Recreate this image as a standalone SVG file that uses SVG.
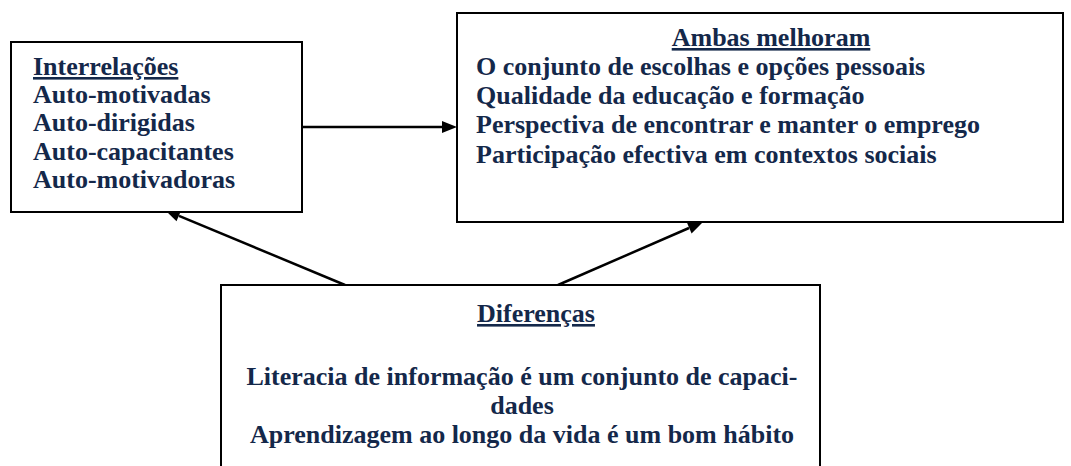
<svg xmlns="http://www.w3.org/2000/svg" width="1071" height="466" viewBox="0 0 1071 466">
<defs>
<style>
.box{fill:#fff;stroke:#000;stroke-width:2}
.t{font-family:'Liberation Serif',serif !important;font-weight:700;font-size:26px;fill:#14284a}
.h{text-decoration:underline}
.c{text-anchor:middle}
.con{stroke:#000;stroke-width:2.5;fill:none}
.head{fill:#000;stroke:none}
</style>
</defs>
<rect width="1071" height="466" fill="#fff"/>
<g id="connectors">
<line class="con" x1="302" y1="127" x2="443" y2="127"/>
<polygon class="head" points="457,127 442,121 442,133"/>
<line class="con" x1="345" y1="285" x2="179" y2="215.8"/>
<polygon class="head" points="165,210 181.2,210.2 176.5,221.3"/>
<line class="con" x1="558" y1="285" x2="689" y2="228"/>
<polygon class="head" points="703,222 691.6,233.5 686.9,222.5"/>
</g>
<g id="interrelacoes">
<rect class="box" x="11" y="42" width="291" height="170"/>
<text class="t h" style="font-family:'Liberation Serif',serif !important" x="33" y="75">Interrelações</text>
<text class="t" style="font-family:'Liberation Serif',serif !important" x="33" y="103">Auto-motivadas</text>
<text class="t" style="font-family:'Liberation Serif',serif !important" x="33" y="131">Auto-dirigidas</text>
<text class="t" style="font-family:'Liberation Serif',serif !important" x="33" y="160">Auto-capacitantes</text>
<text class="t" style="font-family:'Liberation Serif',serif !important" x="33" y="188">Auto-motivadoras</text>
</g>
<g id="ambas">
<rect class="box" x="457" y="13" width="606" height="209"/>
<text class="t h c" style="font-family:'Liberation Serif',serif !important" x="771" y="46">Ambas melhoram</text>
<text class="t" style="font-family:'Liberation Serif',serif !important" x="476" y="75">O conjunto de escolhas e opções pessoais</text>
<text class="t" style="font-family:'Liberation Serif',serif !important" x="476" y="104">Qualidade da educação e formação</text>
<text class="t" style="font-family:'Liberation Serif',serif !important" x="476" y="133">Perspectiva de encontrar e manter o emprego</text>
<text class="t" style="font-family:'Liberation Serif',serif !important" x="476" y="163">Participação efectiva em contextos sociais</text>
</g>
<g id="diferencas">
<rect class="box" x="221" y="285" width="599" height="190"/>
<text class="t h c" style="font-family:'Liberation Serif',serif !important" x="536" y="322">Diferenças</text>
<text class="t c" style="font-family:'Liberation Serif',serif !important" x="522" y="385">Literacia de informação é um conjunto de capaci-</text>
<text class="t c" style="font-family:'Liberation Serif',serif !important" x="522" y="414">dades</text>
<text class="t c" style="font-family:'Liberation Serif',serif !important" x="522" y="443">Aprendizagem ao longo da vida é um bom hábito</text>
</g>
</svg>
